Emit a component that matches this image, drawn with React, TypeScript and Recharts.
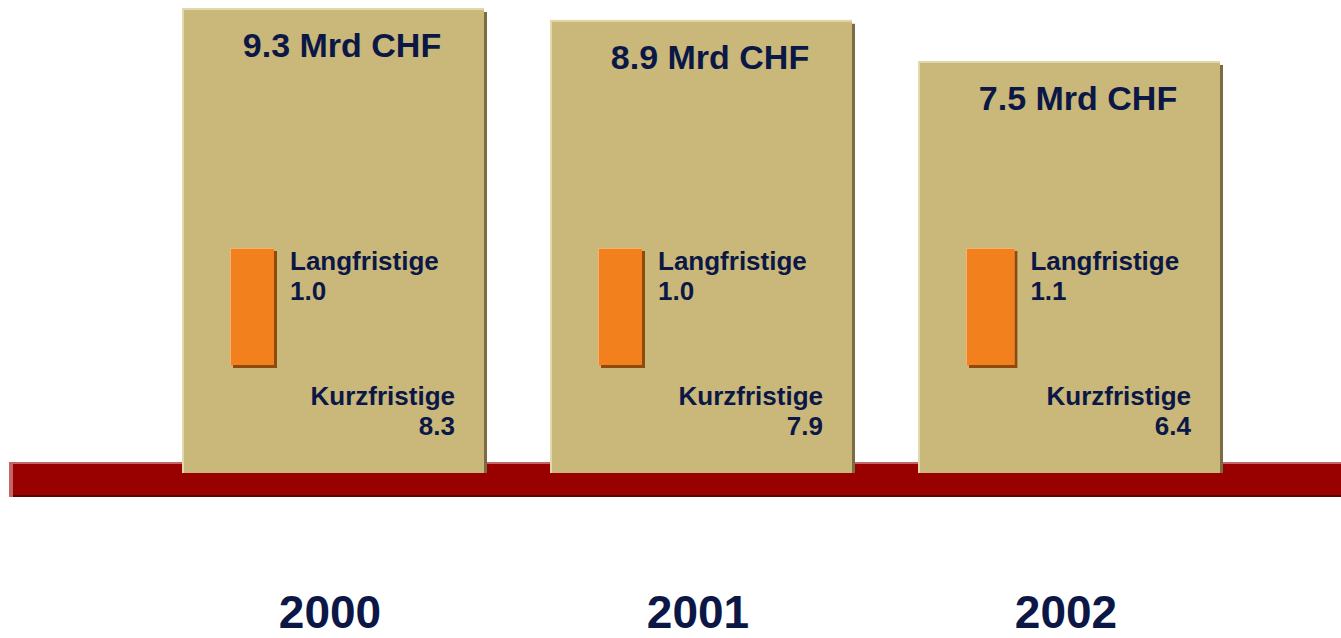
import React from 'react';
import { BarChart, Bar, XAxis, YAxis } from 'recharts';

// values in Mrd CHF
const years = ['2000', '2001', '2002'];
const totals = [9.3, 8.9, 7.5];
const langfristig = [1.0, 1.0, 1.1];
const kurzfristig = [8.3, 7.9, 6.4];

// the boxes are a pictogram, not drawn from zero
const AXIS_MIN = -6.5;
const AXIS_MAX = 9.3;

const data = years.map((year, i) => ({
  year,
  total: totals[i],
  lang: langfristig[i],
  kurz: kurzfristig[i],
}));

const NAVY = '#0b1846';
const FONT = '"Liberation Sans", Arial, sans-serif';

const Box = (props: any) => {
  const { x, y, width, height, payload } = props;
  const bottom = y + height;
  const mw = payload.lang * 44;
  const mx = x + 48;
  const my = bottom - 225;
  const mh = 117;
  const labelX = mx + mw + 16;
  const right = x + width - 29;
  return (
    <g>
      <rect x={x + 3} y={y + 4} width={width} height={height} fill="#7d6c42" />
      <rect x={x} y={y} width={width} height={height} fill="#e3d8ad" />
      <rect x={x + 2} y={y + 2} width={width - 2} height={height - 2} fill="#cab77a" />
      <text x={x + width / 2 + 9} y={y + 49} textAnchor="middle" fill={NAVY}
        fontFamily={FONT} fontWeight="bold" fontSize={34}>
        {payload.total.toFixed(1)} Mrd CHF
      </text>
      <rect x={mx + 3} y={my + 3} width={mw} height={mh} fill="#8f4a10" />
      <rect x={mx} y={my} width={mw} height={mh} fill="#f8b070" />
      <rect x={mx + 1} y={my + 1} width={mw - 1} height={mh - 1} fill="#f2801c" />
      <text x={labelX} y={bottom - 203} fill={NAVY} fontFamily={FONT} fontWeight="bold" fontSize={26}>
        Langfristige
      </text>
      <text x={labelX} y={bottom - 173} fill={NAVY} fontFamily={FONT} fontWeight="bold" fontSize={26}>
        {payload.lang.toFixed(1)}
      </text>
      <text x={right} y={bottom - 68} textAnchor="end" fill={NAVY} fontFamily={FONT} fontWeight="bold" fontSize={26}>
        Kurzfristige
      </text>
      <text x={right} y={bottom - 38} textAnchor="end" fill={NAVY} fontFamily={FONT} fontWeight="bold" fontSize={26}>
        {payload.kurz.toFixed(1)}
      </text>
    </g>
  );
};

const YearTick = (props: any) => {
  const { x, y, payload } = props;
  return (
    <text x={x - 3} y={y} dy={155} textAnchor="middle" fill={NAVY}
      fontFamily={FONT} fontWeight="bold" fontSize={46}>
      {payload.value}
    </text>
  );
};

const App: React.FC = () => {
  return (
    <div style={{ position: 'absolute', left: 0, top: 0 }}>
      <BarChart
        width={1341}
        height={638}
        data={data}
        margin={{ top: 8, right: 88, bottom: 0, left: 149 }}
      >
        <g>
          <rect x={9} y={462} width={1332} height={35} fill="#c46464" />
          <rect x={13} y={464} width={1328} height={33} fill="#5c0000" />
          <rect x={13} y={464} width={1328} height={31} fill="#990000" />
        </g>
        <YAxis hide domain={[AXIS_MIN, AXIS_MAX]} allowDataOverflow />
        <XAxis dataKey="year" axisLine={false} tickLine={false} tickSize={0} tickMargin={0}
          height={165} tick={<YearTick />} interval={0} />
        <Bar dataKey={(d: any) => [AXIS_MIN, d.total]} barSize={302} shape={<Box />}
          isAnimationActive={false} />
      </BarChart>
    </div>
  );
};

export default App;
